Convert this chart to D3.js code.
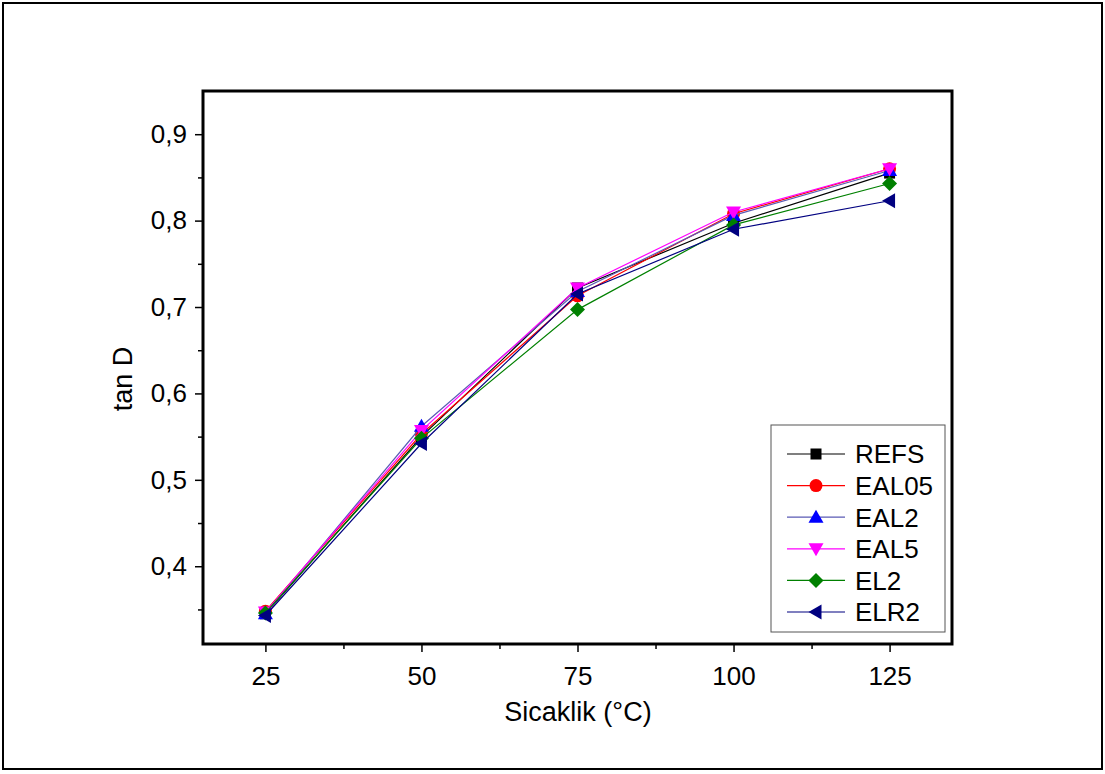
<!DOCTYPE html>
<html lang="en">
<head>
    <meta charset="UTF-8">
    <title>tan D vs Sicaklik</title>
    <style>
        body { margin: 0; padding: 0; background: #fff; }
        svg { display: block; }
        text { font-family: "Liberation Sans", Arial, sans-serif; fill: #000; }
    </style>
</head>
<body>
<svg width="1105" height="774"></svg>
<script src="https://d3js.org/d3.v7.min.js"></script>
<script>
    // data
    const temps = [25, 50, 75, 100, 125];
    const seriesNames = ["REFS", "EAL05", "EAL2", "EAL5", "EL2", "ELR2"];
    const REFS  = [0.345, 0.550, 0.722, 0.797, 0.855];
    const EAL05 = [0.348, 0.553, 0.713, 0.808, 0.860];
    const EAL2  = [0.345, 0.562, 0.718, 0.806, 0.858];
    const EAL5  = [0.347, 0.557, 0.722, 0.810, 0.860];
    const EL2   = [0.346, 0.548, 0.697, 0.795, 0.843];
    const ELR2  = [0.343, 0.542, 0.715, 0.790, 0.823];
    const yTicks = [0.4, 0.5, 0.6, 0.7, 0.8, 0.9];

    const values = [REFS, EAL05, EAL2, EAL5, EL2, ELR2];
    const lineColors = ["#000000", "#ff0000", "#5a5ab4", "#ff00ff", "#008000", "#000080"];
    const markColors = ["#000000", "#ff0000", "#0000ff", "#ff00ff", "#008000", "#000080"];
    const symbols = ["square", "circle", "up", "down", "diamond", "left"];

    const svg = d3.select("svg");

    // outer frame
    svg.append("rect")
        .attr("x", 3).attr("y", 3).attr("width", 1099).attr("height", 766)
        .attr("fill", "none").attr("stroke", "#000").attr("stroke-width", 2);

    const plotL = 203, plotR = 952, plotT = 91, plotB = 644;

    const x = d3.scaleLinear().domain([15, 135]).range([plotL, plotR]);
    const y = d3.scaleLinear().domain([0.31, 0.95]).range([plotB, plotT]);

    const fmt = d => d3.format(".1f")(d).replace(".", ",");

    // y axis
    svg.append("g").attr("transform", `translate(${plotL},0)`)
        .call(d3.axisLeft(y).tickValues(yTicks).tickFormat(fmt).tickSize(8).tickPadding(8));
    svg.append("g").attr("transform", `translate(${plotL},0)`)
        .call(d3.axisLeft(y).tickValues(d3.range(0.35, 0.95, 0.1)).tickFormat("").tickSize(5));

    // x axis
    svg.append("g").attr("transform", `translate(0,${plotB})`)
        .call(d3.axisBottom(x).tickValues(temps).tickSize(8).tickPadding(15));
    svg.append("g").attr("transform", `translate(0,${plotB})`)
        .call(d3.axisBottom(x).tickValues([37.5, 62.5, 87.5, 112.5]).tickFormat("").tickSize(5));

    svg.selectAll(".tick line").attr("stroke", "#000").attr("stroke-width", 1.5);
    svg.selectAll(".tick text").style("font-size", "26px").style("font-family", "Liberation Sans, Arial, sans-serif");
    svg.selectAll(".domain").remove();

    // plot frame
    svg.append("rect")
        .attr("x", plotL).attr("y", plotT).attr("width", plotR - plotL).attr("height", plotB - plotT)
        .attr("fill", "none").attr("stroke", "#000").attr("stroke-width", 3);

    // axis titles
    svg.append("text")
        .attr("transform", "translate(132,379) rotate(-90)")
        .attr("text-anchor", "middle")
        .style("font-size", "27px")
        .text("tan D");
    svg.append("text")
        .attr("x", 578).attr("y", 721)
        .attr("text-anchor", "middle")
        .style("font-size", "27px")
        .text("Sicaklik (°C)");

    // marker shapes
    function marker(g, kind, cx, cy, color) {
        const s = 6.5;
        let el;
        if (kind === "square") {
            el = g.append("rect").attr("x", cx - 5.5).attr("y", cy - 5.5).attr("width", 11).attr("height", 11);
        } else if (kind === "circle") {
            el = g.append("circle").attr("cx", cx).attr("cy", cy).attr("r", 6.5);
        } else {
            let pts;
            if (kind === "up") pts = [[cx, cy - s - 1], [cx + s + 1, cy + s - 1], [cx - s - 1, cy + s - 1]];
            if (kind === "down") pts = [[cx, cy + s + 1], [cx + s + 1, cy - s + 1], [cx - s - 1, cy - s + 1]];
            if (kind === "left") pts = [[cx - s - 1, cy], [cx + s - 1, cy - s - 1], [cx + s - 1, cy + s + 1]];
            if (kind === "diamond") pts = [[cx, cy - s - 1], [cx + s + 1, cy], [cx, cy + s + 1], [cx - s - 1, cy]];
            el = g.append("polygon").attr("points", pts.map(p => p.join(",")).join(" "));
        }
        el.attr("fill", color);
    }

    const line = d3.line().x((d, i) => x(temps[i])).y(d => y(d));

    values.forEach((vals, k) => {
        const g = svg.append("g");
        g.append("path").datum(vals)
            .attr("d", line)
            .attr("fill", "none")
            .attr("stroke", lineColors[k])
            .attr("stroke-width", 1.2);
        vals.forEach((v, i) => marker(g, symbols[k], x(temps[i]), y(v), markColors[k]));
    });

    // legend
    const lg = svg.append("g");
    lg.append("rect")
        .attr("x", 771).attr("y", 425).attr("width", 174).attr("height", 207)
        .attr("fill", "#fff").attr("stroke", "#555").attr("stroke-width", 1);
    seriesNames.forEach((name, k) => {
        const ly = 454 + k * 31.6;
        lg.append("line")
            .attr("x1", 787).attr("x2", 845).attr("y1", ly).attr("y2", ly)
            .attr("stroke", lineColors[k]).attr("stroke-width", 1.2);
        marker(lg, symbols[k], 816, ly, markColors[k]);
        lg.append("text")
            .attr("x", 855).attr("y", ly + 9.3)
            .style("font-size", "26px")
            .text(name);
    });
</script>
</body>
</html>
